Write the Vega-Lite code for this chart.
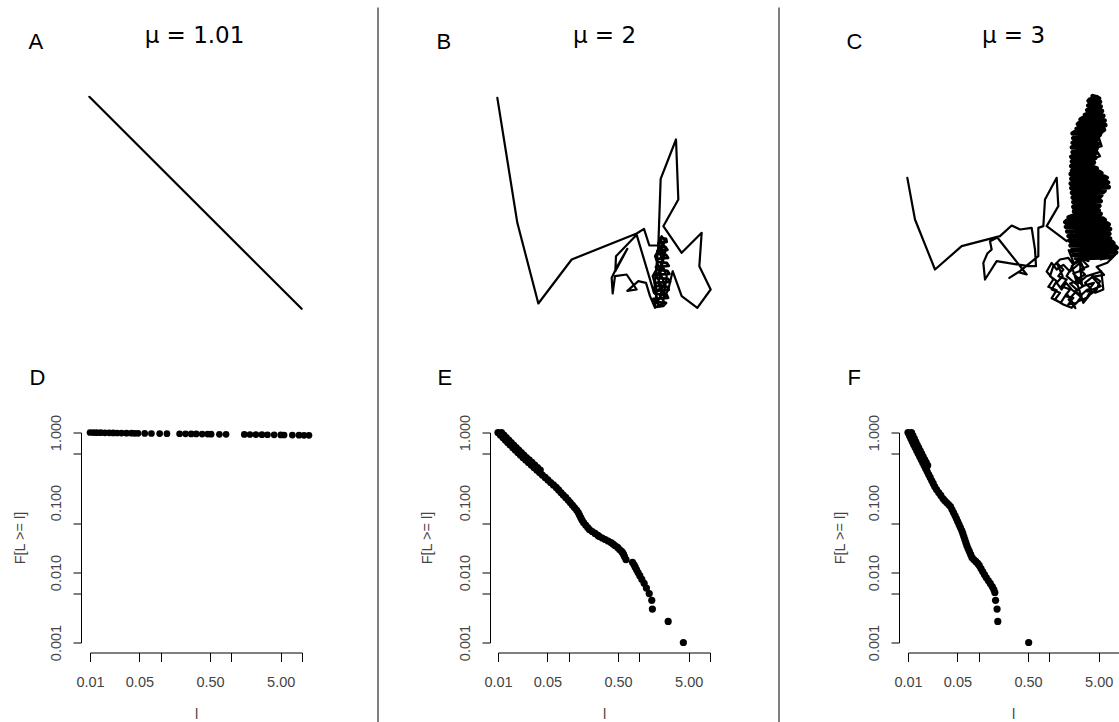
{
  "$schema": "https://vega.github.io/schema/vega-lite/v6.json",
  "background": "white",
  "padding": {"left": 12, "top": 6.5, "right": 0, "bottom": 0},
  "config": {
    "font": "Liberation Sans",
    "view": {"stroke": null},
    "axis": {"grid": false, "domainColor": "black", "tickColor": "black", "labelColor": "#444", "titleColor": "#444", "labelFont": "Liberation Sans", "titleFont": "Liberation Sans", "titleFontWeight": "normal"},
    "title": {"fontWeight": "normal", "color": "black", "font": "Liberation Sans"}
  },
  "columns": 5,
  "align": "each",
  "bounds": "flush",
  "spacing": {"row": 123, "column": 69},
  "concat": [
    {
      "width": 219, "height": 213,
      "data": {"values": [{"i": 1, "x": 268, "y": 292}, {"i": 2, "x": 905, "y": 928}]},
      "mark": {"type": "line", "color": "black", "strokeWidth": 2.2, "strokeJoin": "round", "strokeCap": "round"},
      "encoding": {
        "x": {"field": "x", "type": "quantitative", "scale": {"domain": [270, 927], "nice": false, "zero": false},
              "axis": {"orient": "top", "domain": false, "ticks": false, "labels": false, "title": "μ = 1.01", "titleX": 104, "titleY": -54, "titleAlign": "center", "titleBaseline": "alphabetic", "titleAngle": 0, "titleFontSize": 23, "titleFont": "DejaVu Sans", "titleColor": "black"}},
        "y": {"field": "y", "type": "quantitative", "scale": {"domain": [291, 930], "nice": false, "zero": false, "reverse": true},
              "axis": {"domain": false, "ticks": false, "labels": false, "title": "A", "titleX": -62, "titleY": -48, "titleAlign": "left", "titleBaseline": "alphabetic", "titleAngle": 0, "titleFontSize": 22, "titleColor": "black"}},
        "order": {"field": "i"}
      }
    },
    {
      "width": 51, "height": 213,
      "data": {"values": [{"sep": "AB"}]},
      "mark": {"type": "rule", "color": "#555", "strokeWidth": 1.5},
      "encoding": {
        "x": {"datum": 0, "type": "quantitative", "scale": {"domain": [0, 1], "nice": false}, "axis": null},
        "y": {"datum": 1.418, "type": "quantitative", "scale": {"domain": [0, 1], "nice": false}, "axis": null},
        "y2": {"datum": -1.948}
      }
    },
    {
      "width": 212, "height": 213,
      "data": {"values": [
        {"i":1,"x":22,"y":25,"part":"walk"},{"i":2,"x":82,"y":400,"part":"walk"},{"i":3,"x":145,"y":642,"part":"walk"},{"i":4,"x":245,"y":510,"part":"walk"},{"i":5,"x":440,"y":432,"part":"walk"},{"i":6,"x":462,"y":418,"part":"walk"},{"i":7,"x":478,"y":468,"part":"walk"},{"i":8,"x":505,"y":468,"part":"walk"},{"i":9,"x":492,"y":610,"part":"walk"},{"i":10,"x":440,"y":436,"part":"walk"},
        {"i":11,"x":378,"y":500,"part":"walk"},{"i":12,"x":376,"y":545,"part":"walk"},{"i":13,"x":412,"y":478,"part":"walk"},{"i":14,"x":382,"y":530,"part":"walk"},{"i":15,"x":365,"y":565,"part":"walk"},{"i":16,"x":368,"y":612,"part":"walk"},{"i":17,"x":375,"y":560,"part":"walk"},{"i":18,"x":410,"y":555,"part":"walk"},{"i":19,"x":440,"y":600,"part":"walk"},{"i":20,"x":412,"y":604,"part":"walk"},
        {"i":21,"x":445,"y":575,"part":"walk"},{"i":22,"x":468,"y":580,"part":"walk"},{"i":23,"x":480,"y":620,"part":"walk"},{"i":24,"x":495,"y":655,"part":"walk"},{"i":25,"x":500,"y":600,"part":"walk"},{"i":26,"x":488,"y":560,"part":"walk"},{"i":27,"x":505,"y":530,"part":"walk"},{"i":28,"x":495,"y":500,"part":"walk"},{"i":29,"x":512,"y":470,"part":"walk"},{"i":30,"x":520,"y":500,"part":"walk"},
        {"i":31,"x":508,"y":540,"part":"walk"},{"i":32,"x":522,"y":580,"part":"walk"},{"i":33,"x":510,"y":620,"part":"walk"},{"i":34,"x":525,"y":640,"part":"walk"},{"i":35,"x":505,"y":648,"part":"walk"},{"i":36,"x":498,"y":610,"part":"walk"},{"i":37,"x":515,"y":590,"part":"walk"},{"i":38,"x":500,"y":560,"part":"walk"},{"i":39,"x":518,"y":520,"part":"walk"},{"i":40,"x":510,"y":490,"part":"walk"},
        {"i":41,"x":525,"y":455,"part":"walk"},{"i":42,"x":515,"y":440,"part":"walk"},
        {"i":100,"x":510,"y":445,"part":"dense"},{"i":101,"x":528,"y":448,"part":"dense"},{"i":102,"x":530,"y":457,"part":"dense"},{"i":103,"x":505,"y":460,"part":"dense"},{"i":104,"x":508,"y":469,"part":"dense"},{"i":105,"x":526,"y":472,"part":"dense"},{"i":106,"x":532,"y":481,"part":"dense"},{"i":107,"x":502,"y":484,"part":"dense"},{"i":108,"x":506,"y":493,"part":"dense"},{"i":109,"x":528,"y":496,"part":"dense"},
        {"i":110,"x":534,"y":505,"part":"dense"},{"i":111,"x":500,"y":508,"part":"dense"},{"i":112,"x":504,"y":517,"part":"dense"},{"i":113,"x":530,"y":520,"part":"dense"},{"i":114,"x":536,"y":529,"part":"dense"},{"i":115,"x":498,"y":532,"part":"dense"},{"i":116,"x":502,"y":541,"part":"dense"},{"i":117,"x":532,"y":544,"part":"dense"},{"i":118,"x":538,"y":553,"part":"dense"},{"i":119,"x":496,"y":556,"part":"dense"},
        {"i":120,"x":500,"y":565,"part":"dense"},{"i":121,"x":534,"y":568,"part":"dense"},{"i":122,"x":540,"y":577,"part":"dense"},{"i":123,"x":494,"y":580,"part":"dense"},{"i":124,"x":498,"y":589,"part":"dense"},{"i":125,"x":532,"y":592,"part":"dense"},{"i":126,"x":536,"y":601,"part":"dense"},{"i":127,"x":492,"y":604,"part":"dense"},{"i":128,"x":496,"y":613,"part":"dense"},{"i":129,"x":530,"y":616,"part":"dense"},
        {"i":130,"x":534,"y":625,"part":"dense"},{"i":131,"x":490,"y":628,"part":"dense"},{"i":132,"x":494,"y":637,"part":"dense"},{"i":133,"x":528,"y":640,"part":"dense"},{"i":134,"x":520,"y":649,"part":"dense"},{"i":135,"x":498,"y":652,"part":"dense"},
        {"i":343,"x":505,"y":468,"part":"walk"},{"i":344,"x":512,"y":268,"part":"walk"},{"i":345,"x":558,"y":150,"part":"walk"},{"i":346,"x":565,"y":330,"part":"walk"},{"i":347,"x":520,"y":410,"part":"walk"},{"i":348,"x":575,"y":490,"part":"walk"},{"i":349,"x":635,"y":430,"part":"walk"},{"i":350,"x":628,"y":530,"part":"walk"},
        {"i":351,"x":662,"y":600,"part":"walk"},{"i":352,"x":622,"y":655,"part":"walk"},{"i":353,"x":575,"y":620,"part":"walk"},{"i":354,"x":548,"y":545,"part":"walk"},{"i":355,"x":535,"y":600,"part":"walk"},{"i":356,"x":520,"y":630,"part":"walk"},{"i":357,"x":530,"y":560,"part":"walk"},{"i":358,"x":515,"y":520,"part":"walk"},{"i":359,"x":528,"y":480,"part":"walk"},{"i":360,"x":512,"y":450,"part":"walk"},
        {"i":361,"x":522,"y":500,"part":"walk"},{"i":362,"x":505,"y":580,"part":"walk"},{"i":363,"x":518,"y":610,"part":"walk"},{"i":364,"x":500,"y":640,"part":"walk"}
      ]},
      "encoding": {
        "x": {"field": "x", "type": "quantitative", "scale": {"domain": [24, 660], "nice": false, "zero": false},
              "axis": {"orient": "top", "domain": false, "ticks": false, "labels": false, "title": "μ = 2", "titleX": 106, "titleY": -54, "titleAlign": "center", "titleBaseline": "alphabetic", "titleAngle": 0, "titleFontSize": 23, "titleFont": "DejaVu Sans", "titleColor": "black"}},
        "y": {"field": "y", "type": "quantitative", "scale": {"domain": [21, 660], "nice": false, "zero": false, "reverse": true},
              "axis": {"domain": false, "ticks": false, "labels": false, "title": "B", "titleX": -62, "titleY": -48, "titleAlign": "left", "titleBaseline": "alphabetic", "titleAngle": 0, "titleFontSize": 22, "titleColor": "black"}},
        "order": {"field": "i"}
      },
      "layer": [
        {"transform": [{"filter": "datum.part === 'walk'"}], "mark": {"type": "line", "color": "black", "strokeWidth": 2.2, "strokeJoin": "round", "strokeCap": "round"}},
        {"transform": [{"filter": "datum.part === 'dense'"}], "mark": {"type": "line", "color": "black", "strokeWidth": 2.8, "strokeJoin": "round", "strokeCap": "round"}}
      ]
    },
    {
      "width": 60, "height": 213,
      "data": {"values": [{"sep": "BC"}]},
      "mark": {"type": "rule", "color": "#555", "strokeWidth": 1.5},
      "encoding": {
        "x": {"datum": 0, "type": "quantitative", "scale": {"domain": [0, 1], "nice": false}, "axis": null},
        "y": {"datum": 1.418, "type": "quantitative", "scale": {"domain": [0, 1], "nice": false}, "axis": null},
        "y2": {"datum": -1.948}
      }
    },
    {
      "width": 212, "height": 213,
      "data": {"values": [
        {"i":1,"x":22,"y":265,"part":"walk"},{"i":2,"x":45,"y":390,"part":"walk"},{"i":3,"x":105,"y":540,"part":"walk"},{"i":4,"x":185,"y":470,"part":"walk"},{"i":5,"x":300,"y":440,"part":"walk"},{"i":6,"x":335,"y":408,"part":"walk"},{"i":7,"x":360,"y":420,"part":"walk"},{"i":8,"x":395,"y":415,"part":"walk"},{"i":9,"x":405,"y":480,"part":"walk"},{"i":10,"x":408,"y":530,"part":"walk"},
        {"i":11,"x":385,"y":530,"part":"walk"},{"i":12,"x":290,"y":515,"part":"walk"},{"i":13,"x":255,"y":570,"part":"walk"},{"i":14,"x":250,"y":520,"part":"walk"},{"i":15,"x":262,"y":492,"part":"walk"},{"i":16,"x":275,"y":480,"part":"walk"},{"i":17,"x":270,"y":455,"part":"walk"},{"i":18,"x":292,"y":444,"part":"walk"},{"i":19,"x":380,"y":555,"part":"walk"},{"i":20,"x":355,"y":548,"part":"walk"},
        {"i":21,"x":328,"y":565,"part":"walk"},{"i":22,"x":360,"y":545,"part":"walk"},{"i":23,"x":415,"y":500,"part":"walk"},{"i":24,"x":415,"y":415,"part":"walk"},{"i":25,"x":430,"y":410,"part":"walk"},{"i":26,"x":435,"y":330,"part":"walk"},{"i":27,"x":470,"y":265,"part":"walk"},{"i":28,"x":475,"y":350,"part":"walk"},{"i":29,"x":440,"y":410,"part":"walk"},{"i":30,"x":500,"y":455,"part":"walk"},
        {"i":31,"x":520,"y":440,"part":"walk"},
        {"i":100,"x":578,"y":20,"part":"dense"},{"i":101,"x":590,"y":23,"part":"dense"},{"i":102,"x":597,"y":27,"part":"dense"},{"i":103,"x":570,"y":30,"part":"dense"},{"i":104,"x":566,"y":34,"part":"dense"},{"i":105,"x":600,"y":37,"part":"dense"},{"i":106,"x":596,"y":41,"part":"dense"},{"i":107,"x":572,"y":44,"part":"dense"},{"i":108,"x":565,"y":48,"part":"dense"},{"i":109,"x":602,"y":51,"part":"dense"},
        {"i":110,"x":598,"y":55,"part":"dense"},{"i":111,"x":568,"y":58,"part":"dense"},{"i":112,"x":562,"y":62,"part":"dense"},{"i":113,"x":606,"y":65,"part":"dense"},{"i":114,"x":600,"y":69,"part":"dense"},{"i":115,"x":566,"y":72,"part":"dense"},{"i":116,"x":555,"y":76,"part":"dense"},{"i":117,"x":610,"y":79,"part":"dense"},{"i":118,"x":606,"y":83,"part":"dense"},{"i":119,"x":548,"y":86,"part":"dense"},
        {"i":120,"x":542,"y":90,"part":"dense"},{"i":121,"x":614,"y":93,"part":"dense"},{"i":122,"x":610,"y":97,"part":"dense"},{"i":123,"x":538,"y":100,"part":"dense"},{"i":124,"x":534,"y":104,"part":"dense"},{"i":125,"x":616,"y":107,"part":"dense"},{"i":126,"x":608,"y":111,"part":"dense"},{"i":127,"x":540,"y":114,"part":"dense"},{"i":128,"x":530,"y":118,"part":"dense"},{"i":129,"x":612,"y":121,"part":"dense"},
        {"i":130,"x":605,"y":125,"part":"dense"},{"i":131,"x":524,"y":128,"part":"dense"},{"i":132,"x":518,"y":132,"part":"dense"},{"i":133,"x":600,"y":135,"part":"dense"},{"i":134,"x":596,"y":139,"part":"dense"},{"i":135,"x":526,"y":142,"part":"dense"},{"i":136,"x":520,"y":146,"part":"dense"},{"i":137,"x":592,"y":149,"part":"dense"},{"i":138,"x":588,"y":153,"part":"dense"},{"i":139,"x":524,"y":156,"part":"dense"},
        {"i":140,"x":518,"y":160,"part":"dense"},{"i":141,"x":594,"y":163,"part":"dense"},{"i":142,"x":586,"y":167,"part":"dense"},{"i":143,"x":522,"y":170,"part":"dense"},{"i":144,"x":516,"y":174,"part":"dense"},{"i":145,"x":590,"y":177,"part":"dense"},{"i":146,"x":584,"y":181,"part":"dense"},{"i":147,"x":524,"y":184,"part":"dense"},{"i":148,"x":518,"y":188,"part":"dense"},{"i":149,"x":588,"y":191,"part":"dense"},
        {"i":150,"x":582,"y":195,"part":"dense"},{"i":151,"x":522,"y":198,"part":"dense"},{"i":152,"x":514,"y":202,"part":"dense"},{"i":153,"x":586,"y":205,"part":"dense"},{"i":154,"x":578,"y":209,"part":"dense"},{"i":155,"x":520,"y":212,"part":"dense"},{"i":156,"x":516,"y":216,"part":"dense"},{"i":157,"x":582,"y":219,"part":"dense"},{"i":158,"x":576,"y":223,"part":"dense"},{"i":159,"x":522,"y":226,"part":"dense"},
        {"i":160,"x":514,"y":230,"part":"dense"},{"i":161,"x":580,"y":233,"part":"dense"},{"i":162,"x":590,"y":237,"part":"dense"},{"i":163,"x":520,"y":240,"part":"dense"},{"i":164,"x":516,"y":244,"part":"dense"},{"i":165,"x":598,"y":247,"part":"dense"},{"i":166,"x":604,"y":251,"part":"dense"},{"i":167,"x":512,"y":254,"part":"dense"},{"i":168,"x":518,"y":258,"part":"dense"},{"i":169,"x":612,"y":261,"part":"dense"},
        {"i":170,"x":620,"y":265,"part":"dense"},{"i":171,"x":514,"y":268,"part":"dense"},{"i":172,"x":520,"y":272,"part":"dense"},{"i":173,"x":616,"y":275,"part":"dense"},{"i":174,"x":624,"y":279,"part":"dense"},{"i":175,"x":512,"y":282,"part":"dense"},{"i":176,"x":518,"y":286,"part":"dense"},{"i":177,"x":618,"y":289,"part":"dense"},{"i":178,"x":626,"y":293,"part":"dense"},{"i":179,"x":514,"y":296,"part":"dense"},
        {"i":180,"x":520,"y":300,"part":"dense"},{"i":181,"x":614,"y":303,"part":"dense"},{"i":182,"x":610,"y":307,"part":"dense"},{"i":183,"x":516,"y":310,"part":"dense"},{"i":184,"x":522,"y":314,"part":"dense"},{"i":185,"x":604,"y":317,"part":"dense"},{"i":186,"x":600,"y":321,"part":"dense"},{"i":187,"x":518,"y":324,"part":"dense"},{"i":188,"x":524,"y":328,"part":"dense"},{"i":189,"x":596,"y":331,"part":"dense"},
        {"i":190,"x":602,"y":335,"part":"dense"},{"i":191,"x":520,"y":338,"part":"dense"},{"i":192,"x":526,"y":342,"part":"dense"},{"i":193,"x":594,"y":345,"part":"dense"},{"i":194,"x":598,"y":349,"part":"dense"},{"i":195,"x":520,"y":352,"part":"dense"},{"i":196,"x":528,"y":356,"part":"dense"},{"i":197,"x":590,"y":359,"part":"dense"},{"i":198,"x":596,"y":363,"part":"dense"},{"i":199,"x":522,"y":366,"part":"dense"},
        {"i":200,"x":526,"y":370,"part":"dense"},{"i":201,"x":602,"y":373,"part":"dense"},{"i":202,"x":598,"y":377,"part":"dense"},{"i":203,"x":516,"y":380,"part":"dense"},{"i":204,"x":506,"y":384,"part":"dense"},{"i":205,"x":608,"y":387,"part":"dense"},{"i":206,"x":614,"y":391,"part":"dense"},{"i":207,"x":500,"y":394,"part":"dense"},{"i":208,"x":496,"y":398,"part":"dense"},{"i":209,"x":620,"y":401,"part":"dense"},
        {"i":210,"x":626,"y":405,"part":"dense"},{"i":211,"x":502,"y":408,"part":"dense"},{"i":212,"x":498,"y":412,"part":"dense"},{"i":213,"x":622,"y":415,"part":"dense"},{"i":214,"x":630,"y":419,"part":"dense"},{"i":215,"x":506,"y":422,"part":"dense"},{"i":216,"x":502,"y":426,"part":"dense"},{"i":217,"x":624,"y":429,"part":"dense"},{"i":218,"x":628,"y":433,"part":"dense"},{"i":219,"x":510,"y":436,"part":"dense"},
        {"i":220,"x":506,"y":440,"part":"dense"},{"i":221,"x":622,"y":443,"part":"dense"},{"i":222,"x":630,"y":447,"part":"dense"},{"i":223,"x":514,"y":450,"part":"dense"},{"i":224,"x":510,"y":454,"part":"dense"},{"i":225,"x":636,"y":457,"part":"dense"},{"i":226,"x":640,"y":461,"part":"dense"},{"i":227,"x":516,"y":464,"part":"dense"},{"i":228,"x":512,"y":468,"part":"dense"},{"i":229,"x":646,"y":471,"part":"dense"},
        {"i":230,"x":650,"y":475,"part":"dense"},{"i":231,"x":520,"y":478,"part":"dense"},{"i":232,"x":516,"y":482,"part":"dense"},{"i":233,"x":644,"y":485,"part":"dense"},{"i":234,"x":648,"y":489,"part":"dense"},{"i":235,"x":524,"y":492,"part":"dense"},{"i":236,"x":520,"y":496,"part":"dense"},{"i":237,"x":636,"y":499,"part":"dense"},{"i":238,"x":628,"y":503,"part":"dense"},{"i":239,"x":528,"y":506,"part":"dense"},
        {"i":332,"x":530,"y":462,"part":"walk"},{"i":333,"x":512,"y":432,"part":"walk"},{"i":334,"x":542,"y":412,"part":"walk"},{"i":335,"x":516,"y":396,"part":"walk"},{"i":336,"x":546,"y":382,"part":"walk"},{"i":337,"x":520,"y":362,"part":"walk"},{"i":338,"x":556,"y":350,"part":"walk"},{"i":339,"x":524,"y":332,"part":"walk"},{"i":340,"x":562,"y":320,"part":"walk"},
        {"i":341,"x":528,"y":302,"part":"walk"},{"i":342,"x":566,"y":292,"part":"walk"},{"i":343,"x":520,"y":282,"part":"walk"},{"i":344,"x":556,"y":272,"part":"walk"},{"i":345,"x":524,"y":256,"part":"walk"},{"i":346,"x":562,"y":242,"part":"walk"},{"i":347,"x":530,"y":226,"part":"walk"},{"i":348,"x":566,"y":212,"part":"walk"},{"i":349,"x":526,"y":200,"part":"walk"},{"i":350,"x":560,"y":186,"part":"walk"},
        {"i":351,"x":522,"y":174,"part":"walk"},{"i":352,"x":556,"y":160,"part":"walk"},{"i":353,"x":530,"y":146,"part":"walk"},{"i":354,"x":562,"y":132,"part":"walk"},{"i":355,"x":536,"y":116,"part":"walk"},{"i":356,"x":572,"y":110,"part":"walk"},{"i":357,"x":546,"y":96,"part":"walk"},{"i":358,"x":582,"y":90,"part":"walk"},{"i":359,"x":560,"y":76,"part":"walk"},{"i":360,"x":592,"y":70,"part":"walk"},
        {"i":361,"x":570,"y":52,"part":"walk"},{"i":362,"x":596,"y":40,"part":"walk"},{"i":363,"x":576,"y":26,"part":"walk"},{"i":364,"x":592,"y":20,"part":"walk"},{"i":365,"x":582,"y":46,"part":"walk"},{"i":366,"x":604,"y":60,"part":"walk"},{"i":367,"x":586,"y":80,"part":"walk"},{"i":368,"x":612,"y":96,"part":"walk"},{"i":369,"x":592,"y":112,"part":"walk"},{"i":370,"x":606,"y":130,"part":"walk"},
        {"i":371,"x":576,"y":142,"part":"walk"},{"i":372,"x":592,"y":160,"part":"walk"},{"i":373,"x":562,"y":170,"part":"walk"},{"i":374,"x":582,"y":190,"part":"walk"},{"i":375,"x":550,"y":202,"part":"walk"},{"i":376,"x":576,"y":216,"part":"walk"},{"i":377,"x":546,"y":230,"part":"walk"},{"i":378,"x":576,"y":246,"part":"walk"},{"i":379,"x":550,"y":262,"part":"walk"},{"i":380,"x":602,"y":266,"part":"walk"},
        {"i":381,"x":576,"y":282,"part":"walk"},{"i":382,"x":616,"y":292,"part":"walk"},{"i":383,"x":580,"y":302,"part":"walk"},{"i":384,"x":602,"y":322,"part":"walk"},{"i":385,"x":570,"y":336,"part":"walk"},{"i":386,"x":596,"y":352,"part":"walk"},{"i":387,"x":560,"y":366,"part":"walk"},{"i":388,"x":590,"y":382,"part":"walk"},{"i":389,"x":556,"y":396,"part":"walk"},{"i":390,"x":602,"y":410,"part":"walk"},
        {"i":391,"x":566,"y":422,"part":"walk"},{"i":392,"x":622,"y":432,"part":"walk"},{"i":393,"x":580,"y":446,"part":"walk"},{"i":394,"x":612,"y":462,"part":"walk"},{"i":395,"x":560,"y":472,"part":"walk"},{"i":396,"x":602,"y":482,"part":"walk"},{"i":397,"x":576,"y":496,"part":"walk"},{"i":398,"x":632,"y":490,"part":"walk"},{"i":399,"x":602,"y":510,"part":"walk"},{"i":400,"x":646,"y":496,"part":"walk"},
        {"i":401,"x":622,"y":520,"part":"walk"},{"i":402,"x":590,"y":532,"part":"walk"},{"i":403,"x":612,"y":556,"part":"walk"},{"i":404,"x":576,"y":562,"part":"walk"},{"i":405,"x":602,"y":590,"part":"walk"},{"i":406,"x":562,"y":606,"part":"walk"},{"i":407,"x":582,"y":580,"part":"walk"},{"i":408,"x":546,"y":590,"part":"walk"},{"i":409,"x":540,"y":520,"part":"walk"},{"i":410,"x":510,"y":546,"part":"walk"},
        {"i":411,"x":490,"y":526,"part":"walk"},{"i":412,"x":470,"y":540,"part":"walk"},{"i":413,"x":455,"y":520,"part":"walk"},{"i":414,"x":440,"y":546,"part":"walk"},{"i":415,"x":460,"y":570,"part":"walk"},{"i":416,"x":445,"y":592,"part":"walk"},{"i":417,"x":470,"y":602,"part":"walk"},{"i":418,"x":455,"y":626,"part":"walk"},{"i":419,"x":482,"y":640,"part":"walk"},{"i":420,"x":500,"y":612,"part":"walk"},
        {"i":421,"x":520,"y":642,"part":"walk"},{"i":422,"x":526,"y":656,"part":"walk"},{"i":423,"x":506,"y":630,"part":"walk"},{"i":424,"x":532,"y":602,"part":"walk"},{"i":425,"x":510,"y":582,"part":"walk"},{"i":426,"x":540,"y":572,"part":"walk"},{"i":427,"x":520,"y":552,"part":"walk"},{"i":428,"x":552,"y":540,"part":"walk"},{"i":429,"x":536,"y":502,"part":"walk"},{"i":430,"x":506,"y":482,"part":"walk"},
        {"i":431,"x":522,"y":522,"part":"walk"},{"i":432,"x":500,"y":560,"part":"walk"},{"i":433,"x":530,"y":585,"part":"walk"},{"i":434,"x":560,"y":560,"part":"walk"},{"i":435,"x":604,"y":546,"part":"walk"},{"i":436,"x":610,"y":600,"part":"walk"},{"i":437,"x":586,"y":610,"part":"walk"},{"i":438,"x":562,"y":600,"part":"walk"},{"i":439,"x":540,"y":620,"part":"walk"},{"i":440,"x":515,"y":600,"part":"walk"},
        {"i":441,"x":498,"y":580,"part":"walk"},{"i":442,"x":485,"y":600,"part":"walk"},{"i":443,"x":470,"y":580,"part":"walk"},{"i":444,"x":488,"y":560,"part":"walk"},
        {"i":444.01,"x":470,"y":520,"part":"walk"},{"i":444.02,"x":490,"y":540,"part":"walk"},{"i":444.03,"x":475,"y":560,"part":"walk"},{"i":444.04,"x":500,"y":570,"part":"walk"},{"i":444.05,"x":485,"y":590,"part":"walk"},{"i":444.06,"x":510,"y":600,"part":"walk"},{"i":444.07,"x":495,"y":620,"part":"walk"},{"i":444.08,"x":520,"y":625,"part":"walk"},{"i":444.09,"x":505,"y":645,"part":"walk"},{"i":444.10,"x":530,"y":640,"part":"walk"},
        {"i":444.11,"x":545,"y":620,"part":"walk"},{"i":444.12,"x":525,"y":605,"part":"walk"},{"i":444.13,"x":550,"y":590,"part":"walk"},{"i":444.14,"x":530,"y":570,"part":"walk"},{"i":444.15,"x":555,"y":555,"part":"walk"},{"i":444.16,"x":540,"y":540,"part":"walk"},{"i":444.17,"x":565,"y":530,"part":"walk"},{"i":444.18,"x":545,"y":510,"part":"walk"},{"i":444.19,"x":520,"y":525,"part":"walk"},{"i":444.20,"x":505,"y":505,"part":"walk"},
        {"i":444.21,"x":480,"y":510,"part":"walk"},{"i":444.22,"x":460,"y":530,"part":"walk"},{"i":444.23,"x":450,"y":560,"part":"walk"},{"i":444.24,"x":470,"y":575,"part":"walk"},{"i":444.25,"x":455,"y":600,"part":"walk"},{"i":444.26,"x":480,"y":610,"part":"walk"},{"i":444.27,"x":465,"y":630,"part":"walk"},{"i":444.28,"x":490,"y":645,"part":"walk"},{"i":444.29,"x":515,"y":655,"part":"walk"},{"i":444.30,"x":535,"y":635,"part":"walk"},
        {"i":444.31,"x":560,"y":625,"part":"walk"},{"i":444.32,"x":575,"y":600,"part":"walk"},{"i":444.33,"x":555,"y":580,"part":"walk"},{"i":444.34,"x":580,"y":560,"part":"walk"},{"i":444.35,"x":600,"y":575,"part":"walk"},{"i":444.36,"x":590,"y":600,"part":"walk"},{"i":444.37,"x":570,"y":615,"part":"walk"},{"i":444.38,"x":550,"y":640,"part":"walk"},
        {"i":445,"x":515,"y":530,"part":"walk"},{"i":446,"x":540,"y":505,"part":"walk"},{"i":447,"x":565,"y":515,"part":"walk"},{"i":448,"x":580,"y":470,"part":"walk"},{"i":449,"x":545,"y":455,"part":"walk"},{"i":450,"x":570,"y":430,"part":"walk"},
        {"i":451,"x":540,"y":420,"part":"walk"},{"i":452,"x":565,"y":400,"part":"walk"},{"i":453,"x":535,"y":385,"part":"walk"},{"i":454,"x":560,"y":370,"part":"walk"},{"i":455,"x":530,"y":350,"part":"walk"},{"i":456,"x":555,"y":340,"part":"walk"},{"i":457,"x":535,"y":310,"part":"walk"},{"i":458,"x":560,"y":300,"part":"walk"},{"i":459,"x":540,"y":280,"part":"walk"},{"i":460,"x":575,"y":262,"part":"walk"},
        {"i":461,"x":545,"y":245,"part":"walk"},{"i":462,"x":570,"y":232,"part":"walk"},{"i":463,"x":540,"y":215,"part":"walk"},{"i":464,"x":575,"y":200,"part":"walk"},{"i":465,"x":545,"y":185,"part":"walk"},{"i":466,"x":570,"y":170,"part":"walk"},{"i":467,"x":545,"y":150,"part":"walk"},{"i":468,"x":580,"y":140,"part":"walk"},{"i":469,"x":555,"y":125,"part":"walk"},{"i":470,"x":590,"y":118,"part":"walk"},
        {"i":471,"x":565,"y":100,"part":"walk"},{"i":472,"x":600,"y":100,"part":"walk"},{"i":473,"x":580,"y":120,"part":"walk"},{"i":474,"x":610,"y":110,"part":"walk"},{"i":475,"x":595,"y":140,"part":"walk"},{"i":476,"x":605,"y":170,"part":"walk"},{"i":477,"x":585,"y":175,"part":"walk"},{"i":478,"x":600,"y":200,"part":"walk"},{"i":479,"x":570,"y":210,"part":"walk"}
      ]},
      "encoding": {
        "x": {"field": "x", "type": "quantitative", "scale": {"domain": [24, 660], "nice": false, "zero": false},
              "axis": {"orient": "top", "domain": false, "ticks": false, "labels": false, "title": "μ = 3", "titleX": 105, "titleY": -54, "titleAlign": "center", "titleBaseline": "alphabetic", "titleAngle": 0, "titleFontSize": 23, "titleFont": "DejaVu Sans", "titleColor": "black"}},
        "y": {"field": "y", "type": "quantitative", "scale": {"domain": [21, 660], "nice": false, "zero": false, "reverse": true},
              "axis": {"domain": false, "ticks": false, "labels": false, "title": "C", "titleX": -62, "titleY": -48, "titleAlign": "left", "titleBaseline": "alphabetic", "titleAngle": 0, "titleFontSize": 22, "titleColor": "black"}},
        "order": {"field": "i"}
      },
      "layer": [
        {"transform": [{"filter": "datum.part === 'walk'"}], "mark": {"type": "line", "color": "black", "strokeWidth": 2.2, "strokeJoin": "round", "strokeCap": "round"}},
        {"transform": [{"filter": "datum.part === 'dense'"}], "mark": {"type": "line", "color": "black", "strokeWidth": 4.6, "strokeJoin": "round", "strokeCap": "round"}}
      ]
    },
    {
      "width": 212, "height": 210,
      "title": {"text": "D", "anchor": "start", "frame": "group", "dx": -60.5, "offset": 7, "baseline": "alphabetic", "fontSize": 22},
      "data": {"values": [
        {"l":0.0100,"F":1.000},{"l":0.01113,"F":0.997},{"l":0.01243,"F":0.995},{"l":0.01415,"F":0.993},{"l":0.01627,"F":0.990},{"l":0.0187,"F":0.988},{"l":0.02129,"F":0.986},{"l":0.02424,"F":0.984},{"l":0.02796,"F":0.981},{"l":0.03287,"F":0.979},
        {"l":0.03867,"F":0.977},{"l":0.04303,"F":0.974},{"l":0.0479,"F":0.972},{"l":0.05952,"F":0.969},{"l":0.07396,"F":0.967},{"l":0.09681,"F":0.965},{"l":0.1227,"F":0.962},{"l":0.1852,"F":0.960},{"l":0.2249,"F":0.958},{"l":0.2706,"F":0.955},
        {"l":0.3184,"F":0.953},{"l":0.3867,"F":0.950},{"l":0.4637,"F":0.948},{"l":0.5178,"F":0.946},{"l":0.6776,"F":0.943},{"l":0.8421,"F":0.941},{"l":1.525,"F":0.939},{"l":1.834,"F":0.936},{"l":2.228,"F":0.934},{"l":2.707,"F":0.931},
        {"l":3.246,"F":0.929},{"l":4.033,"F":0.926},{"l":5.012,"F":0.924},{"l":5.578,"F":0.921},{"l":7.302,"F":0.918},{"l":9.073,"F":0.915},{"l":10.67,"F":0.912},{"l":12.55,"F":0.910}
      ]},
      "mark": {"type": "point", "filled": true, "color": "black", "size": 45, "opacity": 1},
      "encoding": {
        "x": {"field": "l", "type": "quantitative", "scale": {"type": "log", "domain": [0.01, 10], "nice": false},
              "axis": {"title": "l", "values": [0.01, 0.05, 0.1, 0.5, 1, 5, 10], "labelExpr": "indexof([0.01,0.05,0.5,5], datum.value) >= 0 ? format(datum.value, '.2f') : ''", "offset": 10, "tickSize": 9, "labelPadding": 14, "labelFontSize": 14.5, "labelOverlap": false, "labelFlush": false, "labelBound": false, "titleX": 106, "titleY": 66, "titleAlign": "center", "titleBaseline": "alphabetic", "titleFontSize": 14.5}},
        "y": {"field": "F", "type": "quantitative", "scale": {"type": "log", "domain": [0.001, 1], "nice": false},
              "axis": {"title": "F[L >= l]", "values": [0.001, 0.005, 0.01, 0.05, 0.1, 0.5, 1], "labelExpr": "indexof([0.001,0.01,0.1,1], datum.value) >= 0 ? format(datum.value, '.3f') : ''", "tickOpacity": {"condition": {"test": "datum.value === 0.1", "value": 0}, "value": 1}, "offset": 9, "tickSize": 8, "labelPadding": 10, "labelAngle": 270, "labelAlign": "center", "labelBaseline": "bottom", "labelFontSize": 14.5, "labelOverlap": false, "labelFlush": false, "labelBound": false, "titleX": -57, "titleY": 105, "titleAngle": 270, "titleAlign": "center", "titleBaseline": "alphabetic", "titleFontSize": 14.5}}
      }
    },
    {
      "width": 51, "height": 210,
      "data": {"values": []},
      "mark": {"type": "point", "opacity": 0},
      "encoding": {}
    },
    {
      "width": 212, "height": 210,
      "title": {"text": "E", "anchor": "start", "frame": "group", "dx": -60.5, "offset": 7, "baseline": "alphabetic", "fontSize": 22},
      "data": {"values": [
        {"l":0.0100,"F":1.000},{"l":0.01082,"F":0.921},{"l":0.01172,"F":0.848},{"l":0.01268,"F":0.781},{"l":0.01372,"F":0.720},{"l":0.01486,"F":0.663},{"l":0.01616,"F":0.610},{"l":0.01756,"F":0.562},{"l":0.01908,"F":0.518},{"l":0.02073,"F":0.477},
        {"l":0.02253,"F":0.439},{"l":0.02465,"F":0.405},{"l":0.02699,"F":0.373},{"l":0.02954,"F":0.343},{"l":0.03233,"F":0.316},{"l":0.03537,"F":0.291},{"l":0.03874,"F":0.268},{"l":0.04241,"F":0.247},{"l":0.04642,"F":0.228},{"l":0.05081,"F":0.210},
        {"l":0.05562,"F":0.193},{"l":0.06084,"F":0.178},{"l":0.06664,"F":0.164},{"l":0.07199,"F":0.151},{"l":0.07775,"F":0.139},{"l":0.08389,"F":0.128},{"l":0.09071,"F":0.118},{"l":0.09806,"F":0.1085},{"l":0.1053,"F":0.100},{"l":0.1128,"F":0.0921},
        {"l":0.1207,"F":0.0848},{"l":0.1293,"F":0.0781},{"l":0.1366,"F":0.0720},{"l":0.1422,"F":0.0663},{"l":0.1481,"F":0.0610},{"l":0.1543,"F":0.0562},{"l":0.1624,"F":0.0518},{"l":0.1737,"F":0.0477},{"l":0.1860,"F":0.0439},{"l":0.1965,"F":0.0411},
        {"l":0.2157,"F":0.0385},{"l":0.2365,"F":0.0361},{"l":0.2598,"F":0.0338},{"l":0.2719,"F":0.0327},{"l":0.2988,"F":0.0311},{"l":0.3293,"F":0.0296},{"l":0.3619,"F":0.0282},{"l":0.3976,"F":0.0268},{"l":0.4243,"F":0.0255},{"l":0.4527,"F":0.0243},
        {"l":0.4927,"F":0.0228},{"l":0.5256,"F":0.0213},{"l":0.5609,"F":0.0200},{"l":0.5794,"F":0.0193},{"l":0.5986,"F":0.0181},{"l":0.6163,"F":0.0169},{"l":0.6471,"F":0.0153},
        {"l":0.80,"F":0.014},{"l":0.839,"F":0.013},{"l":0.872,"F":0.012},{"l":0.911,"F":0.011},{"l":0.958,"F":0.010},{"l":1.015,"F":0.009},{"l":1.085,"F":0.008},{"l":1.17,"F":0.007},{"l":1.26,"F":0.006},{"l":1.38,"F":0.005},
        {"l":1.50,"F":0.004},{"l":1.53,"F":0.003},{"l":2.56,"F":0.002},{"l":4.20,"F":0.001},
        {"l":0.0112,"F":1.000},{"l":0.01212,"F":0.921},{"l":0.01313,"F":0.848},{"l":0.0142,"F":0.781},{"l":0.01537,"F":0.720},{"l":0.01664,"F":0.663},{"l":0.0181,"F":0.610},{"l":0.01967,"F":0.562},{"l":0.02137,"F":0.518},{"l":0.02322,"F":0.477},
        {"l":0.02523,"F":0.439},{"l":0.02761,"F":0.405},{"l":0.03023,"F":0.373},{"l":0.03308,"F":0.343},{"l":0.03621,"F":0.316},{"l":0.03961,"F":0.291}
      ]},
      "mark": {"type": "point", "filled": true, "color": "black", "size": 52, "opacity": 1},
      "encoding": {
        "x": {"field": "l", "type": "quantitative", "scale": {"type": "log", "domain": [0.01, 10], "nice": false},
              "axis": {"title": "l", "values": [0.01, 0.05, 0.1, 0.5, 1, 5, 10], "labelExpr": "indexof([0.01,0.05,0.5,5], datum.value) >= 0 ? format(datum.value, '.2f') : ''", "offset": 10, "tickSize": 9, "labelPadding": 14, "labelFontSize": 14.5, "labelOverlap": false, "labelFlush": false, "labelBound": false, "titleX": 106, "titleY": 66, "titleAlign": "center", "titleBaseline": "alphabetic", "titleFontSize": 14.5}},
        "y": {"field": "F", "type": "quantitative", "scale": {"type": "log", "domain": [0.001, 1], "nice": false},
              "axis": {"title": "F[L >= l]", "values": [0.001, 0.005, 0.01, 0.05, 0.1, 0.5, 1], "labelExpr": "indexof([0.001,0.01,0.1,1], datum.value) >= 0 ? format(datum.value, '.3f') : ''", "tickOpacity": {"condition": {"test": "datum.value === 0.1", "value": 0}, "value": 1}, "offset": 8, "tickSize": 8, "labelPadding": 10, "labelAngle": 270, "labelAlign": "center", "labelBaseline": "bottom", "labelFontSize": 14.5, "labelOverlap": false, "labelFlush": false, "labelBound": false, "titleX": -59, "titleY": 105, "titleAngle": 270, "titleAlign": "center", "titleBaseline": "alphabetic", "titleFontSize": 14.5}}
      }
    },
    {
      "width": 60, "height": 210,
      "data": {"values": []},
      "mark": {"type": "point", "opacity": 0},
      "encoding": {}
    },
    {
      "width": 212, "height": 210,
      "title": {"text": "F", "anchor": "start", "frame": "group", "dx": -60.5, "offset": 7, "baseline": "alphabetic", "fontSize": 22},
      "data": {"values": [
        {"l":0.0100,"F":1.000},{"l":0.01047,"F":0.906},{"l":0.01096,"F":0.821},{"l":0.01147,"F":0.744},{"l":0.0120,"F":0.674},{"l":0.01261,"F":0.610},{"l":0.01325,"F":0.553},{"l":0.01391,"F":0.501},{"l":0.01462,"F":0.454},{"l":0.01536,"F":0.411},
        {"l":0.01613,"F":0.373},{"l":0.01693,"F":0.338},{"l":0.01778,"F":0.306},{"l":0.01867,"F":0.277},{"l":0.01961,"F":0.251},{"l":0.0206,"F":0.228},{"l":0.02163,"F":0.206},{"l":0.02271,"F":0.187},{"l":0.02385,"F":0.169},{"l":0.02534,"F":0.153},
        {"l":0.02716,"F":0.139},{"l":0.02911,"F":0.126},{"l":0.03121,"F":0.114},{"l":0.03298,"F":0.1068},{"l":0.03522,"F":0.100},{"l":0.03759,"F":0.0936},{"l":0.03994,"F":0.0877},{"l":0.04193,"F":0.0794},{"l":0.04404,"F":0.0720},{"l":0.04624,"F":0.0652},
        {"l":0.04837,"F":0.0591},{"l":0.05053,"F":0.0535},{"l":0.05278,"F":0.0485},{"l":0.05515,"F":0.0439},{"l":0.05763,"F":0.0398},{"l":0.05969,"F":0.0361},{"l":0.06166,"F":0.0327},{"l":0.06371,"F":0.0296},{"l":0.06582,"F":0.0268},{"l":0.0680,"F":0.0243},
        {"l":0.07076,"F":0.0220},{"l":0.07379,"F":0.0200},{"l":0.07698,"F":0.0181},{"l":0.0803,"F":0.0164},{"l":0.08522,"F":0.0153},{"l":0.09089,"F":0.0144},{"l":0.09692,"F":0.0135},{"l":0.1019,"F":0.0126},{"l":0.1078,"F":0.0114},{"l":0.1140,"F":0.0103},
        {"l":0.1206,"F":0.00936},{"l":0.1280,"F":0.00848},{"l":0.1367,"F":0.00769},{"l":0.1459,"F":0.00697},{"l":0.1556,"F":0.00631},{"l":0.1638,"F":0.00571},{"l":0.1694,"F":0.00518},{"l":0.1735,"F":0.004},{"l":0.1822,"F":0.003},{"l":0.1864,"F":0.002},
        {"l":0.51,"F":0.001},
        {"l":0.0112,"F":1.000},{"l":0.01173,"F":0.906},{"l":0.01228,"F":0.821},{"l":0.01285,"F":0.744},{"l":0.01344,"F":0.674},{"l":0.01412,"F":0.610},{"l":0.01484,"F":0.553},{"l":0.01558,"F":0.501},{"l":0.01637,"F":0.454},{"l":0.0172,"F":0.411},
        {"l":0.01807,"F":0.373},{"l":0.01896,"F":0.338}
      ]},
      "mark": {"type": "point", "filled": true, "color": "black", "size": 52, "opacity": 1},
      "encoding": {
        "x": {"field": "l", "type": "quantitative", "scale": {"type": "log", "domain": [0.01, 10], "nice": false},
              "axis": {"title": "l", "values": [0.01, 0.05, 0.1, 0.5, 1, 5, 10], "labelExpr": "indexof([0.01,0.05,0.5,5], datum.value) >= 0 ? format(datum.value, '.2f') : ''", "offset": 10, "tickSize": 9, "labelPadding": 14, "labelFontSize": 14.5, "labelOverlap": false, "labelFlush": false, "labelBound": false, "titleX": 105, "titleY": 66, "titleAlign": "center", "titleBaseline": "alphabetic", "titleFontSize": 14.5}},
        "y": {"field": "F", "type": "quantitative", "scale": {"type": "log", "domain": [0.001, 1], "nice": false},
              "axis": {"title": "F[L >= l]", "values": [0.001, 0.005, 0.01, 0.05, 0.1, 0.5, 1], "labelExpr": "indexof([0.001,0.01,0.1,1], datum.value) >= 0 ? format(datum.value, '.3f') : ''", "tickOpacity": {"condition": {"test": "datum.value === 0.1", "value": 0}, "value": 1}, "offset": 9, "tickSize": 8, "labelPadding": 10, "labelAngle": 270, "labelAlign": "center", "labelBaseline": "bottom", "labelFontSize": 14.5, "labelOverlap": false, "labelFlush": false, "labelBound": false, "titleX": -55, "titleY": 105, "titleAngle": 270, "titleAlign": "center", "titleBaseline": "alphabetic", "titleFontSize": 14.5}}
      }
    }
  ]
}
